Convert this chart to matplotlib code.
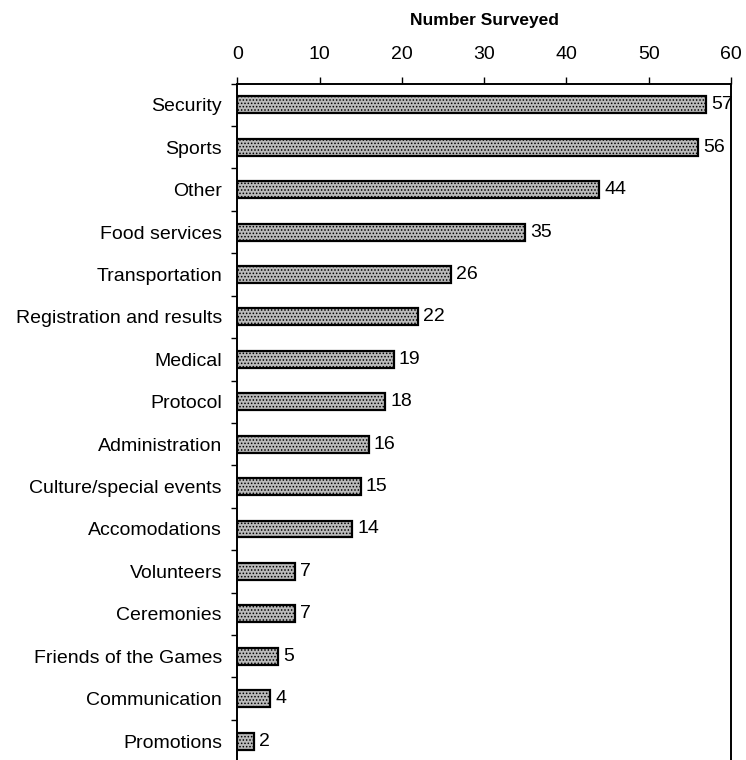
import matplotlib.pyplot as plt
import numpy as np

plt.rcParams['font.family'] = ['Liberation Sans', 'DejaVu Sans']
plt.rcParams['hatch.color'] = '#444444'
plt.rcParams['hatch.linewidth'] = 0.7

# survey counts per functional area
areas = ['Security', 'Sports', 'Other', 'Food services', 'Transportation',
         'Registration and results', 'Medical', 'Protocol', 'Administration',
         'Culture/special events', 'Accomodations', 'Volunteers', 'Ceremonies',
         'Friends of the Games', 'Communication', 'Promotions']
counts = [57, 56, 44, 35, 26, 22, 19, 18, 16, 15, 14, 7, 7, 5, 4, 2]

fig = plt.figure(figsize=(7.46, 7.6), dpi=100)
ax = fig.add_axes([0.318, -0.003, 0.662, 0.893])

pos = np.arange(len(areas))
bars = ax.barh(pos, counts, height=0.4, color='#bababa', edgecolor='black',
               linewidth=1.6, hatch='.....')
for bar, c in zip(bars, counts):
    ax.text(bar.get_width() + 0.6, bar.get_y() + bar.get_height() / 2, str(c),
            va='center', ha='left', fontsize=14)

ax.set_xlim(0, 60)
ax.set_ylim(len(areas) - 0.5, -0.5)
ax.xaxis.tick_top()
ax.xaxis.set_label_position('top')
ax.set_xticks(range(0, 61, 10))
ax.set_xlabel('Number Surveyed', fontweight='bold', fontsize=12.5, labelpad=15)
ax.tick_params(axis='x', labelsize=14, length=5, width=1, direction='out', pad=10)

ax.set_yticks(pos)
ax.set_yticklabels(areas, fontsize=14)
ax.set_yticks(np.arange(-0.5, len(areas), 1), minor=True)
ax.tick_params(axis='y', which='major', length=0, pad=11)
ax.tick_params(axis='y', which='minor', length=4, width=1, direction='out')

ax.spines['bottom'].set_visible(False)
for s in ['top', 'left', 'right']:
    ax.spines[s].set_linewidth(1.4)

fig.savefig('out.png', dpi=100)
